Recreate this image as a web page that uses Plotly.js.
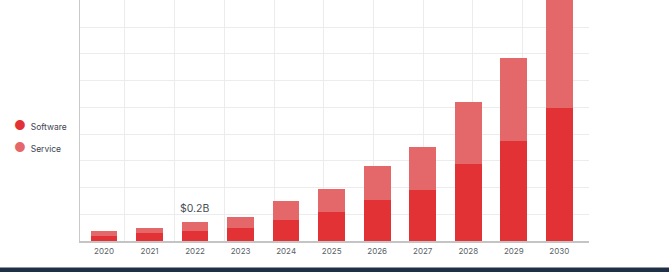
<!DOCTYPE html>
<html>
<head>
<meta charset="utf-8">
<script src="https://cdn.plot.ly/plotly-3.0.1.min.js"></script>
<style>html,body{margin:0;padding:0;background:#fff;}#chart{width:669px;height:272px;}</style>
</head>
<body>
<div id="chart"></div>
<script>
// Values in $B
var years = ['2020','2021','2022','2023','2024','2025','2026','2027','2028','2029','2030'];
var software = [0.06, 0.09, 0.11, 0.15, 0.24, 0.32, 0.46, 0.57, 0.86, 1.12, 1.49];
var service  = [0.05, 0.06, 0.10, 0.12, 0.21, 0.26, 0.38, 0.49, 0.70, 0.93, 1.30];
var seriesNames = ['Software', 'Service'];
var calloutYear = '2022';
var calloutText = '$0.2B';

var cSoft = '#e23235';
var cServ = '#e4676a';
var font = 'Inter, "Noto Sans", sans-serif';

var calloutIdx = years.indexOf(calloutYear);

var traces = [
  {type:'bar', x:years, y:software, name:seriesNames[0], marker:{color:cSoft}, showlegend:false, hoverinfo:'x+y+name'},
  {type:'bar', x:years, y:service, name:seriesNames[1], marker:{color:cServ}, showlegend:false, hoverinfo:'x+y+name'},
  // invisible trace to drive the vertical grid on a secondary x axis
  {type:'scatter', x:[], y:[], xaxis:'x2', showlegend:false, hoverinfo:'skip'}
];

var layout = {
  width:669, height:272,
  margin:{l:80, r:80, t:0, b:31, pad:0},
  paper_bgcolor:'#ffffff', plot_bgcolor:'#ffffff',
  barmode:'stack', bargap:0.414,
  showlegend:false,
  font:{family:font, color:'#555b63'},
  xaxis:{
    type:'category', range:[-0.527, 10.652],
    showgrid:false, zeroline:false,
    showline:true, linecolor:'#c4c4c4', linewidth:1.5,
    ticks:'', tickfont:{size:8, color:'#5a5f66', family:font},
    ticklabelstandoff:2, fixedrange:true
  },
  xaxis2:{
    overlaying:'x', range:[-0.905, 9.336], dtick:1, tick0:0,
    showgrid:true, gridcolor:'#ececec', gridwidth:1,
    showticklabels:false, zeroline:false, showline:false, ticks:''
  },
  yaxis:{
    range:[0, 2.705], dtick:0.3, tick0:0,
    showgrid:true, gridcolor:'#ececec', gridwidth:1,
    showticklabels:false, zeroline:false,
    showline:true, linecolor:'#c8c8c8', linewidth:1.5, ticks:''
  },
  annotations:[
    {x:calloutIdx, y:software[calloutIdx]+service[calloutIdx], xref:'x', yref:'y',
     text:calloutText, showarrow:false, xanchor:'center', yanchor:'bottom', yshift:5,
     font:{size:10.5, color:'#4a4f56', family:font}},
    {xref:'paper', yref:'paper', x:-0.134, y:0.482, xanchor:'left', yanchor:'middle', showarrow:false,
     text:'<span style="color:'+cSoft+';font-size:13px">●</span>  '+seriesNames[0],
     font:{size:8.5, color:'#3d4551', family:font}},
    {xref:'paper', yref:'paper', x:-0.134, y:0.391, xanchor:'left', yanchor:'middle', showarrow:false,
     text:'<span style="color:'+cServ+';font-size:13px">●</span>  '+seriesNames[1],
     font:{size:8.5, color:'#3d4551', family:font}}
  ],
  shapes:[
    {type:'rect', xref:'paper', yref:'paper', x0:-0.25, x1:1.25, y0:-0.2, y1:-0.1095,
     fillcolor:'#1e3045', line:{width:0}, layer:'above'}
  ]
};

Plotly.newPlot('chart', traces, layout, {displayModeBar:false, staticPlot:true});
</script>
</body>
</html>
